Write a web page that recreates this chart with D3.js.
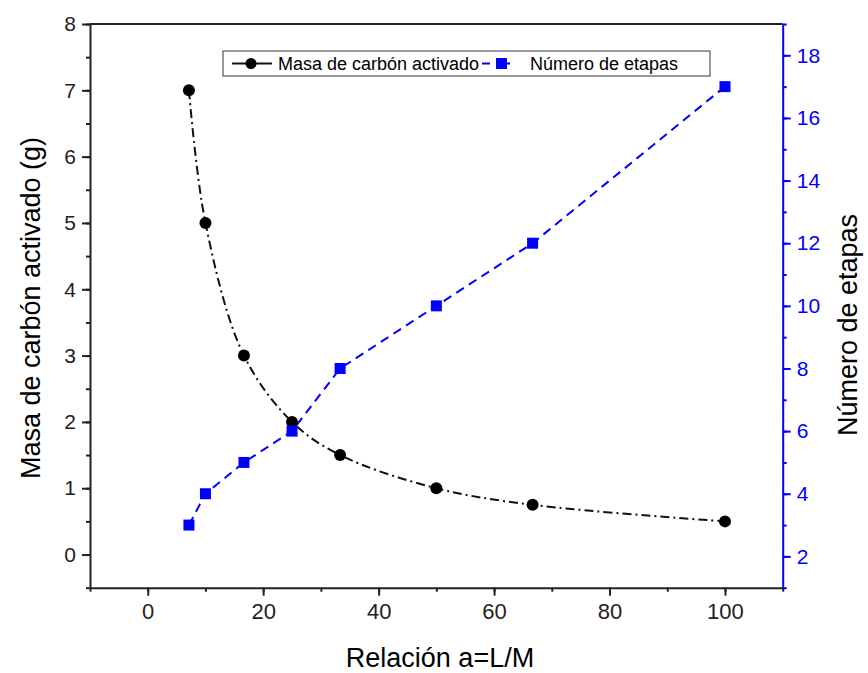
<!DOCTYPE html>
<html>
<head>
<meta charset="utf-8">
<script src="https://cdn.jsdelivr.net/npm/d3@7"></script>
<style>
  body { margin: 0; background: #fff; }
  svg { font-family: "Liberation Sans", Arial, sans-serif; }
</style>
</head>
<body>
<svg width="868" height="673"></svg>
<script>
const relacion = [7.14, 10, 16.67, 25, 33.33, 50, 66.67, 100];
const masa = [7, 5, 3, 2, 1.5, 1, 0.75, 0.5];
const etapas = [3, 4, 5, 6, 8, 10, 12, 17];
const xTicks = [0, 20, 40, 60, 80, 100];
const yLeftTicks = [0, 1, 2, 3, 4, 5, 6, 7, 8];
const yRightTicks = [2, 4, 6, 8, 10, 12, 14, 16, 18];

const svg = d3.select("svg");
const margin = { top: 24, left: 90 };
const innerWidth = 782.7 - margin.left;
const innerHeight = 587.7 - margin.top;
const blue = "#0000ff";
const ink = "#222";

const x = d3.scaleLinear().domain([-10, 110]).range([0, innerWidth]);
const yL = d3.scaleLinear().domain([-0.5, 8]).range([innerHeight, 0]);
const yR = d3.scaleLinear().domain([1, 19]).range([innerHeight, 0]);

const g = svg.append("g").attr("transform", `translate(${margin.left},${margin.top})`);

// top frame line
g.append("line").attr("x1", 0).attr("x2", innerWidth).attr("y1", 0).attr("y2", 0)
  .attr("stroke", ink).attr("stroke-width", 2);

const styleAxis = (sel, color) => {
  sel.select(".domain").attr("stroke", color).attr("stroke-width", 2);
  sel.selectAll(".tick line").attr("stroke", color).attr("stroke-width", 2);
  sel.selectAll(".tick text").attr("fill", color);
};
const minor = (sel, color) => {
  sel.select(".domain").remove();
  sel.selectAll("text").remove();
  sel.selectAll("line").attr("stroke", color).attr("stroke-width", 2);
};

// minor ticks
g.append("g").attr("transform", `translate(0,${innerHeight})`)
  .call(d3.axisBottom(x).tickValues(d3.range(-10, 111, 10)).tickSize(4))
  .call(s => minor(s, ink));
g.append("g")
  .call(d3.axisLeft(yL).tickValues(d3.range(-0.5, 8.01, 0.5)).tickSize(4))
  .call(s => minor(s, ink));
g.append("g").attr("transform", `translate(${innerWidth},0)`)
  .call(d3.axisRight(yR).tickValues(d3.range(1, 19.01, 1)).tickSize(4))
  .call(s => minor(s, blue));

// major axes
g.append("g").attr("transform", `translate(0,${innerHeight})`)
  .call(d3.axisBottom(x).tickValues(xTicks).tickSize(8).tickSizeOuter(0).tickPadding(8))
  .call(s => styleAxis(s, ink))
  .selectAll("text").style("font-size", "22px");

g.append("g")
  .call(d3.axisLeft(yL).tickValues(yLeftTicks).tickSize(8).tickSizeOuter(0).tickPadding(6))
  .call(s => styleAxis(s, ink))
  .selectAll("text").style("font-size", "21px");

g.append("g").attr("transform", `translate(${innerWidth},0)`)
  .call(d3.axisRight(yR).tickValues(yRightTicks).tickSize(8).tickSizeOuter(0).tickPadding(6))
  .call(s => styleAxis(s, blue))
  .selectAll("text").style("font-size", "21px");

// lines
const pts1 = relacion.map((d, i) => [x(d), yL(masa[i])]);
const pts2 = relacion.map((d, i) => [x(d), yR(etapas[i])]);

g.append("path").attr("d", d3.line().curve(d3.curveCatmullRom)(pts1))
  .attr("fill", "none").attr("stroke", "#111").attr("stroke-width", 2)
  .attr("stroke-dasharray", "9,4,2,4");
g.append("path").attr("d", d3.line()(pts2))
  .attr("fill", "none").attr("stroke", blue).attr("stroke-width", 2)
  .attr("stroke-dasharray", "9,6");

g.selectAll(".dot").data(pts1).enter().append("circle")
  .attr("cx", d => d[0]).attr("cy", d => d[1]).attr("r", 6).attr("fill", "#000");
g.selectAll(".sq").data(pts2).enter().append("rect")
  .attr("x", d => d[0] - 5.5).attr("y", d => d[1] - 5.5)
  .attr("width", 11).attr("height", 11).attr("fill", blue);

// legend
const lg = svg.append("g");
lg.append("rect").attr("x", 223).attr("y", 51).attr("width", 487).attr("height", 25)
  .attr("fill", "#fff").attr("stroke", "#333").attr("stroke-width", 1);
lg.append("line").attr("x1", 232).attr("x2", 272).attr("y1", 63.5).attr("y2", 63.5)
  .attr("stroke", "#111").attr("stroke-width", 2);
lg.append("circle").attr("cx", 251).attr("cy", 63.5).attr("r", 5.5).attr("fill", "#000");
lg.append("text").attr("x", 278).attr("y", 70).style("font-size", "18px").text("Masa de carbón activado");
lg.append("line").attr("x1", 482).attr("x2", 518).attr("y1", 63.5).attr("y2", 63.5)
  .attr("stroke", blue).attr("stroke-width", 2).attr("stroke-dasharray", "8,12");
lg.append("rect").attr("x", 496).attr("y", 58).attr("width", 11).attr("height", 11).attr("fill", blue);
lg.append("text").attr("x", 530).attr("y", 70).style("font-size", "18px").text("Número de etapas");

// axis titles
svg.append("text").attr("x", 440).attr("y", 667).attr("text-anchor", "middle")
  .style("font-size", "27px").text("Relación a=L/M");
svg.append("text").attr("transform", "translate(40,308) rotate(-90)")
  .attr("text-anchor", "middle").style("font-size", "27px").text("Masa de carbón activado (g)");
svg.append("text").attr("transform", "translate(857,325) rotate(-90)")
  .attr("text-anchor", "middle").style("font-size", "27px").text("Número de etapas");
</script>
</body>
</html>
